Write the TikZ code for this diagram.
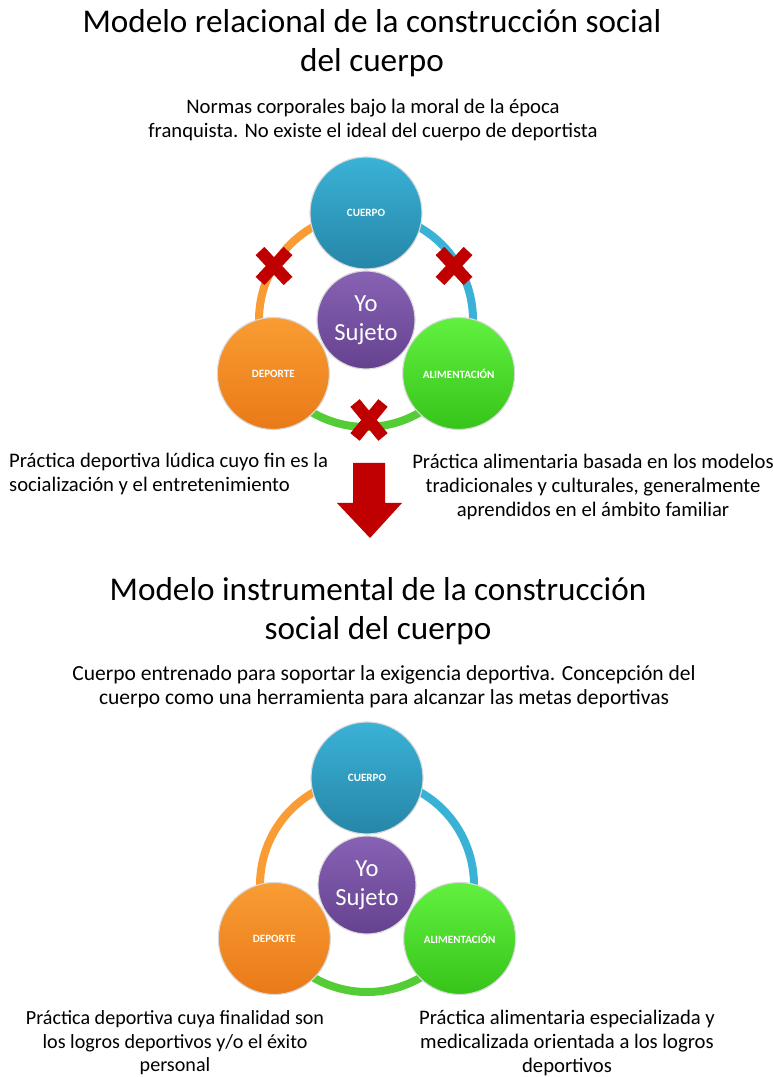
\documentclass[tikz,border=0pt]{standalone}
\usepackage{fontspec}
\setmainfont{Carlito}
\usepackage{tikz}
\definecolor{azul}{HTML}{3AB2D6}
\definecolor{azulosc}{HTML}{2686A8}
\definecolor{naranja}{HTML}{F99C33}
\definecolor{naranjaosc}{HTML}{E97A17}
\definecolor{verde}{HTML}{62F040}
\definecolor{verdeosc}{HTML}{36C41A}
\definecolor{morado}{HTML}{8862B4}
\definecolor{moradoosc}{HTML}{654290}
\definecolor{rojo}{HTML}{C00000}
\tikzset{every path/.style={thick}}
\tikzset{
  bola/.style={circle, minimum size=2.8cm, inner sep=0pt, draw=white!85!black, line width=0.8pt,
    text=white, font=\fontsize{7.9}{9}\selectfont\bfseries},
  yo/.style={circle, minimum size=2.45cm, inner sep=0pt, draw=white!85!black, line width=0.8pt,
    top color=morado, bottom color=moradoosc, text=white, align=center,
    font=\fontsize{17.5}{21}\selectfont},
  anillo/.style={line width=0.2cm},
  cruz/.style={rojo, line width=0.3cm},
  titulo/.style={align=center, font=\fontsize{23.6}{28}\selectfont},
  texto/.style={align=center, font=\fontsize{14.7}{17}\selectfont}
}

\begin{document}
\begin{tikzpicture}[x=0.025cm, y=0.025cm]
\useasboundingbox (0,0) rectangle (772,1077);

\node[titulo] (tituloA) at (372,1034) {Modelo relacional de la construcción social\\del cuerpo};
\node[texto] (normas) at (373,957) {Normas corporales bajo la moral de la época\\franquista. No existe el ideal del cuerpo de deportista};

\begin{scope}[shift={(366,757)}]
\coordinate (pC) at (90:107);
\coordinate (pD) at (210:107);
\coordinate (pA) at (330:107);
\draw[anillo, naranja] (pC) arc[start angle=90, end angle=210, radius=107];
\draw[anillo, verde!85!black] (pD) arc[start angle=210, end angle=330, radius=107];
\draw[anillo, azul] (pA) arc[start angle=-30, end angle=90, radius=107];
\node[bola, top color=azul, bottom color=azulosc] (cuerpoA) at (pC) {CUERPO};
\node[bola, top color=naranja, bottom color=naranjaosc] (deporteA) at (pD) {DEPORTE};
\node[bola, top color=verde, bottom color=verdeosc] (alimA) at (pA) {ALIMENTACIÓN};
\node[yo] (yoA) at (0,0) {Yo\\Sujeto};
\draw[cruz] (-106,39) -- (-78,69);
\draw[cruz] (-106,69) -- (-78,39);
\draw[cruz] (74,39) -- (102,69);
\draw[cruz] (74,69) -- (102,39);
\draw[cruz] (-11,-117) -- (17,-83);
\draw[cruz] (-11,-83) -- (17,-117);
\end{scope}

\node[texto, align=left, anchor=west] (depA) at (4,603) {Práctica deportiva lúdica cuyo fin es la\\socialización y el entretenimiento};
\node[texto] (alA) at (593,590) {Práctica alimentaria basada en los modelos\\tradicionales y culturales, generalmente\\aprendidos en el ámbito familiar};

\fill[rojo] (353,614) -- (385,614) -- (385,574) -- (402,574) -- (370,539) -- (337,574) -- (353,574) -- cycle;

\node[titulo] (tituloB) at (378,466) {Modelo instrumental de la construcción\\social del cuerpo};
\node[texto, font=\fontsize{15.3}{17}\selectfont] (entrenado) at (384,390) {Cuerpo entrenado para soportar la exigencia deportiva. Concepción del\\cuerpo como una herramienta para alcanzar las metas deportivas};

\begin{scope}[shift={(367,192)}]
\coordinate (qC) at (90:107);
\coordinate (qD) at (210:107);
\coordinate (qA) at (330:107);
\draw[anillo, naranja] (qC) arc[start angle=90, end angle=210, radius=107];
\draw[anillo, verde!85!black] (qD) arc[start angle=210, end angle=330, radius=107];
\draw[anillo, azul] (qA) arc[start angle=-30, end angle=90, radius=107];
\node[bola, top color=azul, bottom color=azulosc] (cuerpoB) at (qC) {CUERPO};
\node[bola, top color=naranja, bottom color=naranjaosc] (deporteB) at (qD) {DEPORTE};
\node[bola, top color=verde, bottom color=verdeosc] (alimB) at (qA) {ALIMENTACIÓN};
\node[yo] (yoB) at (0,0) {Yo\\Sujeto};
\end{scope}

\node[texto, font=\fontsize{14.3}{16.8}\selectfont] (depB) at (175,34) {Práctica deportiva cuya finalidad son\\los logros deportivos y/o el éxito\\personal};
\node[texto] (alB) at (567,34) {Práctica alimentaria especializada y\\medicalizada orientada a los logros\\deportivos};
\end{tikzpicture}
\end{document}
